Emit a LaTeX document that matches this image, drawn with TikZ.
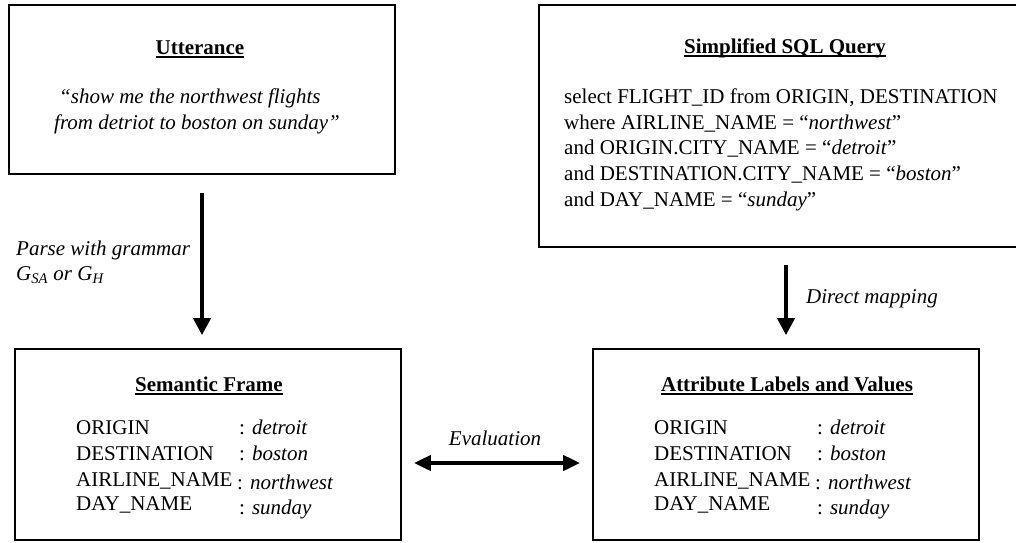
\documentclass[tikz,border=0pt]{standalone}
\usepackage{fontspec}
\setmainfont{Liberation Serif}
\usetikzlibrary{arrows.meta,calc}
\newcommand\figfs{\fontsize{21}{26}\selectfont}
\newcommand\myul[1]{\setbox0\hbox{#1}\rlap{\rule[-3.6pt]{\wd0}{1.3pt}}\box0}
\begin{document}
\begin{tikzpicture}[x=1pt,y=-1pt,
  box/.style={draw, line width=1.7pt, rectangle, inner sep=0pt},
  txt/.style={anchor=base west, inner sep=0pt, font=\figfs},
  ttl/.style={anchor=base, inner sep=0pt, font=\figfs\bfseries},
  ctr/.style={anchor=base, inner sep=0pt, font=\figfs},
  bigarrow/.style={line width=4pt, -{Triangle[length=17pt,width=17pt]}},
  dblarrow/.style={line width=4pt, {Triangle[length=17pt,width=15pt]}-{Triangle[length=17pt,width=15pt]}}
]
\useasboundingbox (0,0) rectangle (1016,542);

% boxes
\node[box, minimum width=386pt, minimum height=169pt] (utt) at (202,89.5) {};
\node[box, minimum width=492pt, minimum height=242pt] (sql) at (785,126) {};
\node[box, minimum width=386pt, minimum height=191pt] (sem) at (208,444.5) {};
\node[box, minimum width=386pt, minimum height=191pt] (att) at (786,444.5) {};

% utterance
\node[ttl] (uttT) at (200,54) {\myul{Utterance}};
\node[txt] (uttL1) at (59,103) {\itshape ``show me the northwest flights};
\node[txt] (uttL2) at (54,129) {\itshape from detriot to boston on sunday''};

% SQL
\node[ttl] (sqlT) at (785,53) {\myul{Simplified SQL Query}};
\node[txt] (sqlL1) at (564,103) {select FLIGHT\_ID from ORIGIN, DESTINATION};
\node[txt] (sqlL2) at (564,129) {where AIRLINE\_NAME = ``\textit{northwest}''};
\node[txt] (sqlL3) at (564,154) {and ORIGIN.CITY\_NAME = ``\textit{detroit}''};
\node[txt] (sqlL4) at (564,180) {and DESTINATION.CITY\_NAME = ``\textit{boston}''};
\node[txt] (sqlL5) at (564,206) {and DAY\_NAME = ``\textit{sunday}''};

% semantic frame
\node[ttl] (semT) at (209,391) {\myul{Semantic Frame}};
\node[txt] (semA1) at (76,434) {ORIGIN};
\node[txt] (semA2) at (76,460) {DESTINATION};
\node[txt] (semA3) at (76,486) {AIRLINE\_NAME};
\node[txt] (semA4) at (76,510) {DAY\_NAME};
\node[txt] (semV1) at (239,434) {: \textit{detroit}};
\node[txt] (semV2) at (239,460) {: \textit{boston}};
\node[txt] (semV3) at (237,489) {: \textit{northwest}};
\node[txt] (semV4) at (239,514) {: \textit{sunday}};

% attribute labels
\node[ttl] (attT) at (787,391) {\myul{Attribute Labels and Values}};
\node[txt] (attA1) at (654,434) {ORIGIN};
\node[txt] (attA2) at (654,460) {DESTINATION};
\node[txt] (attA3) at (654,486) {AIRLINE\_NAME};
\node[txt] (attA4) at (654,510) {DAY\_NAME};
\node[txt] (attV1) at (817,434) {: \textit{detroit}};
\node[txt] (attV2) at (817,460) {: \textit{boston}};
\node[txt] (attV3) at (815,489) {: \textit{northwest}};
\node[txt] (attV4) at (817,514) {: \textit{sunday}};

% arrow labels
\node[txt] (parse1) at (16,255) {\itshape Parse with grammar};
\node[txt] (parse2) at (16,280) {\itshape G\textsubscript{SA} or G\textsubscript{H}};
\node[txt] (direct) at (806,303) {\itshape Direct mapping};
\node[ctr] (evalL) at (495,445) {\itshape Evaluation};

% arrows
\draw[bigarrow, shorten <=18pt, shorten >=13pt] (utt.south) -- (utt.south |- sem.north);
\draw[bigarrow, shorten <=17pt, shorten >=13pt] (sql.south -| att.north) -- (att.north);
\draw[dblarrow, shorten <=12pt, shorten >=12pt] ([yshift=-18.5pt]sem.east) -- ([yshift=-18.5pt]att.west);
\end{tikzpicture}
\end{document}
